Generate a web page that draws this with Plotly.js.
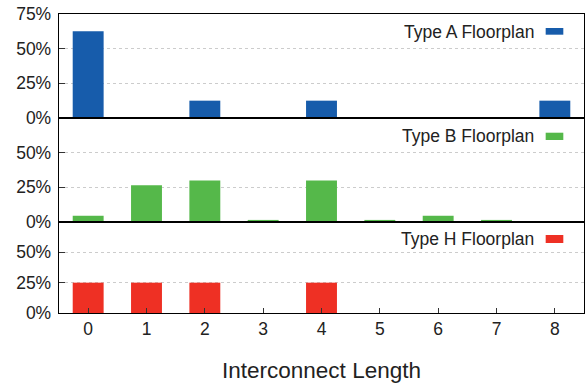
<!DOCTYPE html>
<html>
<head>
<meta charset="utf-8">
<script src="https://cdn.plot.ly/plotly-3.0.1.min.js"></script>
<style>html,body{margin:0;padding:0;background:#fff;}#chart{width:585px;height:383px;}</style>
</head>
<body>
<div id="chart"></div>
<script>
const lengths = [0, 1, 2, 3, 4, 5, 6, 7, 8];
const typeA = [62.5, 0, 12.5, 0, 12.5, 0, 0, 0, 12.5];
const typeB = [4.5, 26.5, 30, 1.5, 30, 1.5, 4.5, 1.5, 0];
const typeH = [25, 25, 25, 0, 25, 0, 0, 0, 0];
const seriesNames = ['Type A Floorplan', 'Type B Floorplan', 'Type H Floorplan'];
const colors = ['#175cab', '#55b84a', '#ee3024'];
const xTitle = 'Interconnect Length';

const FONT = '"Liberation Sans", Arial, Helvetica, sans-serif';

function bar(y, color, xa, ya, name) {
  return {type: 'bar', x: lengths, y: y, name: name, xaxis: xa, yaxis: ya,
    width: 0.53, marker: {color: color, line: {width: 0}}, showlegend: false,
    hoverinfo: 'x+y'};
}
const data = [
  bar(typeA, colors[0], 'x', 'y', seriesNames[0]),
  bar(typeB, colors[1], 'x2', 'y2', seriesNames[1]),
  bar(typeH, colors[2], 'x3', 'y3', seriesNames[2])
];

const H = 299;
const dBot = [0, 91 / H];
const dMid = [91 / H, 195 / H];
const dTop = [195 / H, 1];

function yax(domain, tickvals, anchor) {
  return {domain: domain, range: [0, 75], anchor: anchor, tickvals: tickvals,
    ticktext: tickvals.map(v => v + '%'), ticks: 'inside', ticklen: 6, tickcolor: '#333',
    ticklabelstandoff: 3,
    showline: true, linecolor: '#000', linewidth: 1.3, mirror: true,
    showgrid: true, gridcolor: '#cccccc', griddash: 'dot', gridwidth: 1,
    zeroline: false, tickfont: {size: 17.5, color: '#222', family: FONT}, fixedrange: true};
}
function xax(anchor, showLabels) {
  const a = {anchor: anchor, range: [-0.5, 8.5], tickvals: lengths, matches: anchor === 'y3' ? undefined : 'x3',
    showline: true, linecolor: '#000', linewidth: 1.3, mirror: true,
    showgrid: false, zeroline: false, showticklabels: showLabels,
    ticks: showLabels ? 'inside' : '', ticklen: 5, tickcolor: '#333',
    tickfont: {size: 17.5, color: '#222', family: FONT}, fixedrange: true};
  if (showLabels) a.title = {text: xTitle, font: {size: 22.5, color: '#222', family: FONT}, standoff: 24};
  return a;
}

const legendY = [0.9398, 0.592, 0.2475];
const swatchY = [[0.9308, 0.9532], [0.5786, 0.6030], [0.2341, 0.2609]];
const annotations = seriesNames.map((n, i) => ({
  text: n, xref: 'paper', yref: 'paper', x: 0.9086, y: legendY[i],
  xanchor: 'right', yanchor: 'middle', showarrow: false,
  font: {size: 17.5, color: '#222', family: FONT}
}));
const shapes = colors.map((c, i) => ({
  type: 'rect', xref: 'paper', yref: 'paper', x0: 0.927, x1: 0.9606,
  y0: swatchY[i][0], y1: swatchY[i][1], fillcolor: c, line: {width: 0}
}));

const layout = {
  width: 585, height: 383,
  margin: {l: 59, r: 1, t: 14, b: 70},
  paper_bgcolor: '#fff', plot_bgcolor: '#fff',
  font: {family: FONT, color: '#222'},
  xaxis: xax('y', false),
  xaxis2: xax('y2', false),
  xaxis3: xax('y3', true),
  yaxis: yax(dTop, [0, 25, 50, 75], 'x'),
  yaxis2: yax(dMid, [0, 25, 50], 'x2'),
  yaxis3: yax(dBot, [0, 25, 50], 'x3'),
  annotations: annotations,
  shapes: shapes,
  bargap: 0.47
};

Plotly.newPlot('chart', data, layout, {displayModeBar: false, staticPlot: true});
</script>
</body>
</html>
